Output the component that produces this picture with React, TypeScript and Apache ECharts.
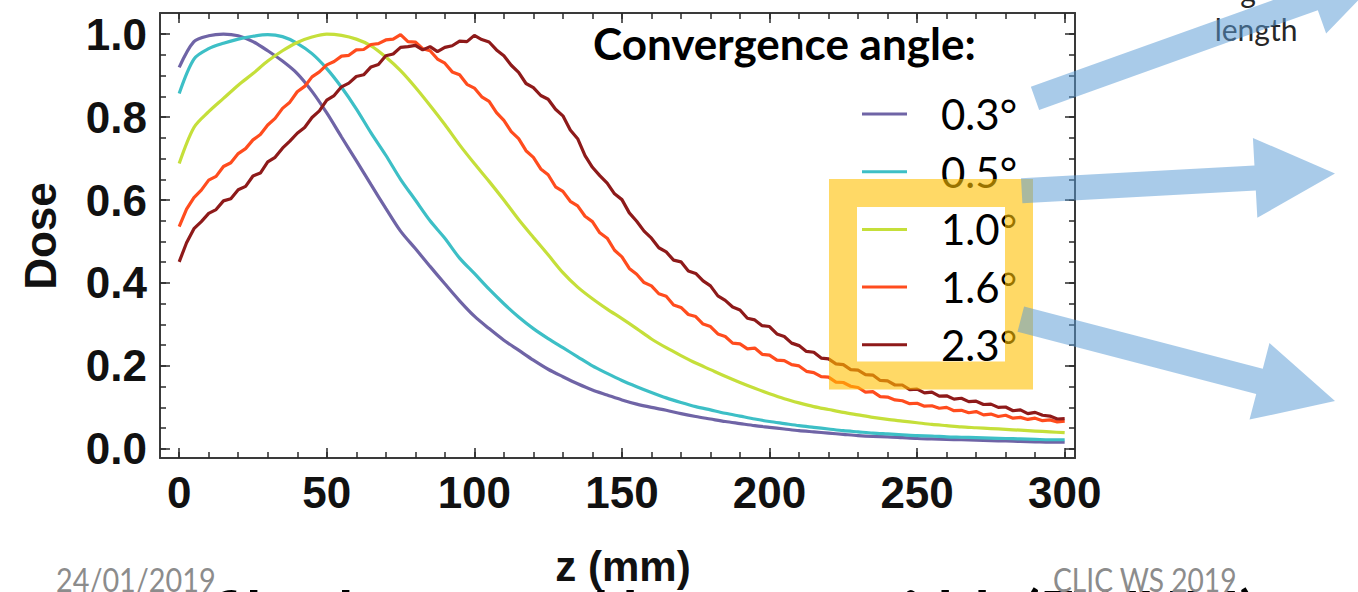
import React, { useEffect, useRef } from "react";
import * as echarts from "echarts";

// ---------- data ----------
const SERIES_NAMES = ["0.3°", "0.5°", "1.0°", "1.6°", "2.3°"];
const SERIES_COLORS = ["#6f64a6", "#3dbfc6", "#c5df3a", "#ff4c1e", "#8e1a1a"];

// z positions (mm) for the smooth curves, step 5
const Z_COARSE = [
  0, 5, 10, 15, 20, 25, 30, 35, 40, 45, 50, 55, 60, 65, 70, 75, 80, 85, 90, 95,
  100, 105, 110, 115, 120, 125, 130, 135, 140, 145, 150, 155, 160, 165, 170, 175, 180, 185, 190, 195,
  200, 205, 210, 215, 220, 225, 230, 235, 240, 245, 250, 255, 260, 265, 270, 275, 280, 285, 290, 295, 300,
];

const DOSE_03 = [
  0.92, 0.982, 0.996, 1.0, 0.996, 0.982, 0.96, 0.935, 0.905, 0.862, 0.81, 0.752, 0.695, 0.637, 0.58, 0.525, 0.483, 0.44, 0.398, 0.357,
  0.32, 0.29, 0.262, 0.238, 0.214, 0.192, 0.174, 0.157, 0.142, 0.13, 0.118, 0.108, 0.1, 0.093, 0.085, 0.078, 0.072, 0.066, 0.061, 0.056,
  0.052, 0.048, 0.044, 0.041, 0.038, 0.035, 0.032, 0.03, 0.029, 0.027, 0.025, 0.024, 0.023, 0.022, 0.021, 0.02, 0.019, 0.018, 0.017, 0.016, 0.016,
];

const DOSE_05 = [
  0.857, 0.94, 0.965, 0.978, 0.988, 0.995, 0.999, 0.994, 0.978, 0.953, 0.917, 0.872, 0.82, 0.762, 0.708, 0.65, 0.6, 0.55, 0.508, 0.46,
  0.423, 0.385, 0.35, 0.318, 0.29, 0.266, 0.244, 0.222, 0.2, 0.182, 0.165, 0.15, 0.136, 0.123, 0.112, 0.102, 0.094, 0.086, 0.079, 0.072,
  0.066, 0.061, 0.056, 0.052, 0.048, 0.044, 0.041, 0.038, 0.036, 0.034, 0.032, 0.031, 0.029, 0.028, 0.027, 0.026, 0.025, 0.024, 0.023, 0.022, 0.022,
];

const DOSE_10 = [
  0.688, 0.775, 0.813, 0.845, 0.877, 0.905, 0.935, 0.96, 0.98, 0.993, 1.0, 0.997, 0.988, 0.972, 0.945, 0.912, 0.872, 0.828, 0.782, 0.733,
  0.688, 0.645, 0.6, 0.553, 0.51, 0.468, 0.425, 0.39, 0.362, 0.337, 0.314, 0.29, 0.265, 0.244, 0.225, 0.207, 0.191, 0.175, 0.16, 0.146,
  0.133, 0.121, 0.111, 0.102, 0.095, 0.088, 0.082, 0.076, 0.071, 0.067, 0.063, 0.059, 0.056, 0.053, 0.051, 0.049, 0.047, 0.045, 0.043, 0.041, 0.039,
];

// z positions (mm) for the noisy curves, step 2.5
const Z_FINE = [
  0, 2.5, 5, 7.5, 10, 12.5, 15, 17.5, 20, 22.5, 25, 27.5, 30, 32.5, 35, 37.5, 40, 42.5, 45, 47.5,
  50, 52.5, 55, 57.5, 60, 62.5, 65, 67.5, 70, 72.5, 75, 77.5, 80, 82.5, 85, 87.5, 90, 92.5, 95, 97.5,
  100, 102.5, 105, 107.5, 110, 112.5, 115, 117.5, 120, 122.5, 125, 127.5, 130, 132.5, 135, 137.5, 140, 142.5, 145, 147.5,
  150, 152.5, 155, 157.5, 160, 162.5, 165, 167.5, 170, 172.5, 175, 177.5, 180, 182.5, 185, 187.5, 190, 192.5, 195, 197.5,
  200, 202.5, 205, 207.5, 210, 212.5, 215, 217.5, 220, 222.5, 225, 227.5, 230, 232.5, 235, 237.5, 240, 242.5, 245, 247.5,
  250, 252.5, 255, 257.5, 260, 262.5, 265, 267.5, 270, 272.5, 275, 277.5, 280, 282.5, 285, 287.5, 290, 292.5, 295, 297.5, 300,
];

const DOSE_16 = [
  0.536, 0.578, 0.606, 0.624, 0.648, 0.657, 0.681, 0.69, 0.712, 0.724, 0.745, 0.758, 0.781, 0.797, 0.821, 0.836, 0.861, 0.874, 0.897, 0.909,
  0.926, 0.934, 0.947, 0.949, 0.962, 0.963, 0.975, 0.977, 0.986, 0.988, 0.999, 0.982, 0.981, 0.965, 0.96, 0.94, 0.93, 0.909, 0.902, 0.879,
  0.87, 0.849, 0.838, 0.811, 0.792, 0.765, 0.748, 0.719, 0.703, 0.675, 0.661, 0.632, 0.621, 0.597, 0.586, 0.561, 0.548, 0.521, 0.508, 0.479,
  0.463, 0.435, 0.421, 0.401, 0.393, 0.374, 0.368, 0.347, 0.341, 0.324, 0.319, 0.301, 0.295, 0.277, 0.271, 0.255, 0.253, 0.241, 0.243, 0.228,
  0.226, 0.214, 0.213, 0.203, 0.2, 0.187, 0.184, 0.174, 0.173, 0.161, 0.16, 0.151, 0.148, 0.137, 0.138, 0.126, 0.125, 0.118, 0.116, 0.109,
  0.11, 0.103, 0.104, 0.098, 0.1, 0.092, 0.093, 0.087, 0.09, 0.082, 0.084, 0.078, 0.081, 0.074, 0.076, 0.071, 0.074, 0.068, 0.07, 0.065, 0.067,
];

const DOSE_23 = [
  0.451, 0.497, 0.531, 0.548, 0.568, 0.577, 0.598, 0.603, 0.625, 0.633, 0.658, 0.665, 0.692, 0.703, 0.725, 0.742, 0.761, 0.775, 0.799, 0.815,
  0.841, 0.852, 0.873, 0.882, 0.898, 0.902, 0.921, 0.927, 0.948, 0.952, 0.968, 0.97, 0.973, 0.962, 0.97, 0.958, 0.968, 0.972, 0.983, 0.982,
  0.997, 0.987, 0.981, 0.962, 0.948, 0.925, 0.908, 0.881, 0.871, 0.852, 0.843, 0.819, 0.803, 0.769, 0.748, 0.707, 0.679, 0.659, 0.641, 0.615,
  0.601, 0.569, 0.549, 0.525, 0.508, 0.485, 0.475, 0.455, 0.451, 0.429, 0.423, 0.405, 0.393, 0.369, 0.358, 0.342, 0.335, 0.315, 0.311, 0.297,
  0.295, 0.277, 0.271, 0.255, 0.249, 0.235, 0.233, 0.219, 0.217, 0.205, 0.203, 0.191, 0.19, 0.179, 0.178, 0.165, 0.164, 0.154, 0.154, 0.143,
  0.144, 0.135, 0.137, 0.127, 0.128, 0.12, 0.122, 0.114, 0.115, 0.107, 0.108, 0.1, 0.101, 0.092, 0.094, 0.085, 0.088, 0.081, 0.079, 0.072, 0.073,
];

const X_MAJOR_TICKS = [0, 50, 100, 150, 200, 250, 300];
const X_MINOR_TICKS = [
  0, 10, 20, 30, 40, 50, 60, 70, 80, 90, 100, 110, 120, 130, 140, 150, 160, 170, 180, 190,
  200, 210, 220, 230, 240, 250, 260, 270, 280, 290, 300,
];
const Y_MAJOR_TICKS = [0, 0.2, 0.4, 0.6, 0.8, 1.0];
const Y_MINOR_TICKS = [
  0, 0.05, 0.1, 0.15, 0.2, 0.25, 0.3, 0.35, 0.4, 0.45, 0.5, 0.55, 0.6, 0.65, 0.7, 0.75, 0.8, 0.85, 0.9, 0.95, 1.0,
];

const X_MIN = -6.5;
const X_MAX = 303.5;
const Y_MIN = -0.022;
const Y_MAX = 1.051;

// ---------- helpers ----------
function pairs(xs: number[], ys: number[]) {
  return xs.map((x, i) => [x, ys[i]]);
}

function arrowPoints(tx: number, ty: number, hx: number, hy: number, shaft: number, head: number, headLen: number) {
  const dx = hx - tx;
  const dy = hy - ty;
  const L = Math.hypot(dx, dy);
  const ux = dx / L;
  const uy = dy / L;
  const nx = -uy;
  const ny = ux;
  const bx = hx - ux * headLen;
  const by = hy - uy * headLen;
  return [
    [tx + nx * shaft, ty + ny * shaft],
    [bx + nx * shaft, by + ny * shaft],
    [bx + nx * head, by + ny * head],
    [hx, hy],
    [bx - nx * head, by - ny * head],
    [bx - nx * shaft, by - ny * shaft],
    [tx - nx * shaft, ty - ny * shaft],
  ];
}

const FRAME = "#3a3a3a";
const TICK = "#2a2a2a";
const TICK_FONT = '"Liberation Sans", Arial, sans-serif';

function xAxisDef(position: "top" | "bottom", ticks: number[], len: number, labels: boolean, line: boolean) {
  return {
    type: "value",
    position,
    min: X_MIN,
    max: X_MAX,
    splitLine: { show: false },
    axisLine: { show: line, onZero: false, lineStyle: { color: FRAME, width: 2 } },
    axisTick: { show: true, inside: true, length: len, customValues: ticks, lineStyle: { color: TICK, width: 1.5 } },
    axisLabel: labels
      ? {
          show: true,
          customValues: ticks,
          formatter: (v: number) => String(Math.round(v)),
          fontSize: 44,
          fontWeight: "bold",
          fontFamily: TICK_FONT,
          color: "#111",
          margin: 12,
        }
      : { show: false },
  };
}

function yAxisDef(position: "left" | "right", ticks: number[], len: number, labels: boolean, line: boolean) {
  return {
    type: "value",
    position,
    min: Y_MIN,
    max: Y_MAX,
    splitLine: { show: false },
    axisLine: { show: line, onZero: false, lineStyle: { color: FRAME, width: 2 } },
    axisTick: { show: true, inside: true, length: len, customValues: ticks, lineStyle: { color: TICK, width: 1.5 } },
    axisLabel: labels
      ? {
          show: true,
          customValues: ticks,
          formatter: (v: number) => v.toFixed(1),
          fontSize: 44,
          fontWeight: "bold",
          fontFamily: TICK_FONT,
          color: "#111",
          margin: 13,
        }
      : { show: false },
  };
}

export default function App() {
  const ref = useRef<HTMLDivElement>(null);

  useEffect(() => {
    if (!ref.current) return;
    const chart = echarts.init(ref.current, undefined, { renderer: "svg" });

    const seriesData = [
      { data: pairs(Z_COARSE, DOSE_03), smooth: true },
      { data: pairs(Z_COARSE, DOSE_05), smooth: true },
      { data: pairs(Z_COARSE, DOSE_10), smooth: true },
      { data: pairs(Z_FINE, DOSE_16), smooth: false },
      { data: pairs(Z_FINE, DOSE_23), smooth: false },
    ];

    const arrowFill = "rgba(91,155,213,0.52)";

    chart.setOption({
      animation: false,
      backgroundColor: "#ffffff",
      grid: { left: 160, right: 283, top: 13, bottom: 134, containLabel: false, outerBoundsMode: "none" },
      xAxis: [
        xAxisDef("bottom", X_MAJOR_TICKS, 10, true, true),
        xAxisDef("bottom", X_MINOR_TICKS, 6, false, false),
        xAxisDef("top", X_MAJOR_TICKS, 10, false, true),
        xAxisDef("top", X_MINOR_TICKS, 6, false, false),
      ],
      yAxis: [
        yAxisDef("left", Y_MAJOR_TICKS, 10, true, true),
        yAxisDef("left", Y_MINOR_TICKS, 6, false, false),
        yAxisDef("right", Y_MAJOR_TICKS, 10, false, true),
        yAxisDef("right", Y_MINOR_TICKS, 6, false, false),
      ],
      legend: {
        orient: "vertical",
        left: 857,
        top: 86,
        itemWidth: 45,
        itemHeight: 3,
        itemGap: 11.7,
        icon: "rect",
        selectedMode: false,
        data: SERIES_NAMES,
        textStyle: {
          fontSize: 42,
          fontFamily: "Lato, sans-serif",
          color: "#000",
          lineHeight: 46,
          padding: [0, 0, 0, 29],
        },
      },
      series: seriesData.map((s, i) => ({
        name: SERIES_NAMES[i],
        type: "line",
        xAxisIndex: 0,
        yAxisIndex: 0,
        data: s.data,
        smooth: s.smooth ? 0.3 : false,
        showSymbol: false,
        symbol: "none",
        color: SERIES_COLORS[i],
        itemStyle: { color: SERIES_COLORS[i] },
        lineStyle: { color: SERIES_COLORS[i], width: 3.2 },
        emphasis: { disabled: true },
        z: 2 + i,
      })),
      graphic: [
        {
          type: "text",
          x: 40,
          y: 236,
          rotation: Math.PI / 2,
          style: {
            text: "Dose",
            font: 'bold 44px "Liberation Sans", Arial, sans-serif',
            fill: "#111",
            align: "center",
            verticalAlign: "middle",
          },
        },
        {
          type: "text",
          x: 623,
          y: 566,
          style: {
            text: "z (mm)",
            font: 'bold 42px "Liberation Sans", Arial, sans-serif',
            fill: "#111",
            align: "center",
            verticalAlign: "middle",
          },
        },
        {
          type: "text",
          x: 593,
          y: 43,
          scaleX: 1.0,
          style: {
            text: "Convergence angle:",
            font: "bold 44px Lato, sans-serif",
            fill: "#000",
            align: "left",
            verticalAlign: "middle",
          },
        },
        {
          type: "text",
          x: 56,
          y: 579,
          scaleX: 0.9,
          style: {
            text: "24/01/2019",
            font: "32px Lato, sans-serif",
            fill: "#8c8c8c",
            align: "left",
            verticalAlign: "middle",
          },
        },
        {
          type: "text",
          x: 1053,
          y: 579,
          scaleX: 0.88,
          z: 10,
          style: {
            text: "CLIC WS 2019",
            font: "32px Lato, sans-serif",
            fill: "#8c8c8c",
            align: "left",
            verticalAlign: "middle",
          },
        },
        {
          type: "text",
          x: 121,
          y: 611,
          style: {
            text: "profile along z and beam",
            font: "bold 60px Lato, sans-serif",
            fill: "#000",
            align: "left",
            verticalAlign: "middle",
          },
        },
        {
          type: "text",
          x: 855,
          y: 611,
          style: {
            text: "width (FWHM)",
            font: "bold 60px Lato, sans-serif",
            fill: "#000",
            align: "left",
            verticalAlign: "middle",
          },
        },
        {
          type: "text",
          x: 1248,
          y: -9,
          style: {
            text: "g",
            font: "30px Lato, sans-serif",
            fill: "#262626",
            align: "center",
            verticalAlign: "middle",
          },
        },
        {
          type: "text",
          x: 1256,
          y: 29,
          style: {
            text: "length",
            font: "30px Lato, sans-serif",
            fill: "#262626",
            align: "center",
            verticalAlign: "middle",
          },
        },
        {
          type: "rect",
          z: 100,
          shape: { x: 843, y: 193, width: 176, height: 182.5 },
          style: { fill: "none", stroke: "rgba(255,192,0,0.6)", lineWidth: 28 },
        },
        {
          type: "polygon",
          z: 101,
          shape: { points: arrowPoints(1035, 98.3, 1384.3, -26.7, 12.3, 37, 75) },
          style: { fill: arrowFill },
        },
        {
          type: "polygon",
          z: 101,
          shape: { points: arrowPoints(1021.7, 190.8, 1335, 173.5, 12.5, 40, 80) },
          style: { fill: arrowFill },
        },
        {
          type: "polygon",
          z: 101,
          shape: { points: arrowPoints(1020.8, 319.2, 1335, 401, 13, 39.5, 78) },
          style: { fill: arrowFill },
        },
      ],
    });

    return () => {
      chart.dispose();
    };
  }, []);

  return (
    <div
      ref={ref}
      style={{ position: "absolute", left: 0, top: 0, width: 1358, height: 592, background: "#fff" }}
    />
  );
}
